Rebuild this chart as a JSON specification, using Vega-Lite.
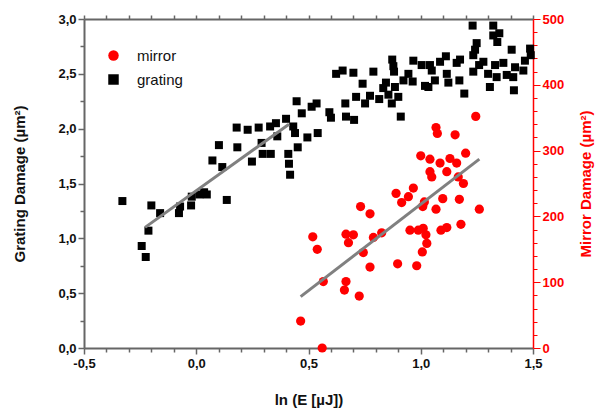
{
  "$schema": "https://vega.github.io/schema/vega-lite/v6.json",
  "width": 449,
  "height": 329,
  "autosize": {"type": "none"},
  "padding": {"left": 84, "top": 19, "right": 67, "bottom": 60},
  "config": {"view": {"stroke": null}, "font": "Liberation Sans", "axis": {"grid": false, "labelOverlap": false, "labelFlush": false, "labelBound": false, "tickCount": 200}},
  "datasets": {
    "grating": [
      {"x": -0.329, "y": 1.34, "s": "grating"}, {"x": -0.243, "y": 0.93, "s": "grating"}, {"x": -0.225, "y": 0.83, "s": "grating"},
      {"x": -0.213, "y": 1.07, "s": "grating"}, {"x": -0.2, "y": 1.3, "s": "grating"}, {"x": -0.161, "y": 1.23, "s": "grating"},
      {"x": -0.077, "y": 1.23, "s": "grating"}, {"x": -0.072, "y": 1.29, "s": "grating"}, {"x": -0.023, "y": 1.3, "s": "grating"},
      {"x": -0.02, "y": 1.38, "s": "grating"}, {"x": 0.014, "y": 1.4, "s": "grating"}, {"x": 0.035, "y": 1.42, "s": "grating"},
      {"x": 0.047, "y": 1.4, "s": "grating"}, {"x": 0.072, "y": 1.71, "s": "grating"}, {"x": 0.101, "y": 1.85, "s": "grating"},
      {"x": 0.116, "y": 1.65, "s": "grating"}, {"x": 0.136, "y": 1.35, "s": "grating"}, {"x": 0.18, "y": 2.01, "s": "grating"},
      {"x": 0.183, "y": 1.83, "s": "grating"}, {"x": 0.229, "y": 1.99, "s": "grating"}, {"x": 0.248, "y": 1.7, "s": "grating"},
      {"x": 0.278, "y": 2.01, "s": "grating"}, {"x": 0.291, "y": 1.87, "s": "grating"}, {"x": 0.296, "y": 1.77, "s": "grating"},
      {"x": 0.329, "y": 2.02, "s": "grating"}, {"x": 0.332, "y": 1.77, "s": "grating"}, {"x": 0.355, "y": 2.05, "s": "grating"},
      {"x": 0.361, "y": 1.93, "s": "grating"}, {"x": 0.4, "y": 2.09, "s": "grating"}, {"x": 0.41, "y": 1.77, "s": "grating"},
      {"x": 0.413, "y": 1.68, "s": "grating"}, {"x": 0.418, "y": 1.58, "s": "grating"}, {"x": 0.432, "y": 2.02, "s": "grating"},
      {"x": 0.44, "y": 1.96, "s": "grating"}, {"x": 0.447, "y": 2.25, "s": "grating"}, {"x": 0.452, "y": 1.83, "s": "grating"},
      {"x": 0.47, "y": 2.14, "s": "grating"}, {"x": 0.495, "y": 1.92, "s": "grating"}, {"x": 0.514, "y": 2.2, "s": "grating"},
      {"x": 0.536, "y": 2.23, "s": "grating"}, {"x": 0.541, "y": 1.96, "s": "grating"}, {"x": 0.593, "y": 2.15, "s": "grating"},
      {"x": 0.6, "y": 2.1, "s": "grating"}, {"x": 0.623, "y": 2.5, "s": "grating"}, {"x": 0.652, "y": 2.53, "s": "grating"},
      {"x": 0.664, "y": 2.23, "s": "grating"}, {"x": 0.667, "y": 2.11, "s": "grating"}, {"x": 0.7, "y": 2.51, "s": "grating"},
      {"x": 0.703, "y": 2.08, "s": "grating"}, {"x": 0.712, "y": 2.29, "s": "grating"}, {"x": 0.741, "y": 2.41, "s": "grating"},
      {"x": 0.752, "y": 2.23, "s": "grating"}, {"x": 0.774, "y": 2.3, "s": "grating"}, {"x": 0.789, "y": 2.52, "s": "grating"},
      {"x": 0.815, "y": 2.27, "s": "grating"}, {"x": 0.833, "y": 2.37, "s": "grating"}, {"x": 0.845, "y": 2.42, "s": "grating"},
      {"x": 0.856, "y": 2.31, "s": "grating"}, {"x": 0.871, "y": 2.23, "s": "grating"}, {"x": 0.873, "y": 2.63, "s": "grating"},
      {"x": 0.878, "y": 2.57, "s": "grating"}, {"x": 0.881, "y": 2.52, "s": "grating"}, {"x": 0.885, "y": 2.38, "s": "grating"},
      {"x": 0.9, "y": 2.29, "s": "grating"}, {"x": 0.911, "y": 2.11, "s": "grating"}, {"x": 0.923, "y": 2.44, "s": "grating"},
      {"x": 0.945, "y": 2.5, "s": "grating"}, {"x": 0.964, "y": 2.43, "s": "grating"}, {"x": 0.967, "y": 2.62, "s": "grating"},
      {"x": 1.004, "y": 2.58, "s": "grating"}, {"x": 1.019, "y": 2.39, "s": "grating"}, {"x": 1.034, "y": 2.38, "s": "grating"},
      {"x": 1.041, "y": 2.58, "s": "grating"}, {"x": 1.049, "y": 2.53, "s": "grating"}, {"x": 1.063, "y": 2.44, "s": "grating"},
      {"x": 1.086, "y": 2.61, "s": "grating"}, {"x": 1.112, "y": 2.66, "s": "grating"}, {"x": 1.116, "y": 2.5, "s": "grating"},
      {"x": 1.123, "y": 2.42, "s": "grating"}, {"x": 1.16, "y": 2.6, "s": "grating"}, {"x": 1.175, "y": 2.63, "s": "grating"},
      {"x": 1.172, "y": 2.44, "s": "grating"}, {"x": 1.194, "y": 2.32, "s": "grating"}, {"x": 1.231, "y": 2.94, "s": "grating"},
      {"x": 1.234, "y": 2.67, "s": "grating"}, {"x": 1.242, "y": 2.72, "s": "grating"}, {"x": 1.249, "y": 2.78, "s": "grating"},
      {"x": 1.234, "y": 2.52, "s": "grating"}, {"x": 1.26, "y": 2.58, "s": "grating"}, {"x": 1.279, "y": 2.61, "s": "grating"},
      {"x": 1.3, "y": 2.5, "s": "grating"}, {"x": 1.308, "y": 2.38, "s": "grating"}, {"x": 1.323, "y": 2.94, "s": "grating"},
      {"x": 1.323, "y": 2.85, "s": "grating"}, {"x": 1.341, "y": 2.79, "s": "grating"}, {"x": 1.35, "y": 2.87, "s": "grating"},
      {"x": 1.331, "y": 2.58, "s": "grating"}, {"x": 1.338, "y": 2.47, "s": "grating"}, {"x": 1.368, "y": 2.6, "s": "grating"},
      {"x": 1.383, "y": 2.49, "s": "grating"}, {"x": 1.405, "y": 2.72, "s": "grating"}, {"x": 1.412, "y": 2.47, "s": "grating"},
      {"x": 1.415, "y": 2.35, "s": "grating"}, {"x": 1.42, "y": 2.56, "s": "grating"}, {"x": 1.457, "y": 2.53, "s": "grating"},
      {"x": 1.464, "y": 2.62, "s": "grating"}, {"x": 1.487, "y": 2.73, "s": "grating"}, {"x": 1.49, "y": 2.67, "s": "grating"}
    ],
    "mirror": [
      {"x": 1.068, "y": 335, "s": "mirror"}, {"x": 1.074, "y": 326, "s": "mirror"}, {"x": 1.153, "y": 324, "s": "mirror"},
      {"x": 1.245, "y": 352, "s": "mirror"}, {"x": 1.2, "y": 296, "s": "mirror"}, {"x": 1.0, "y": 292, "s": "mirror"},
      {"x": 1.041, "y": 287, "s": "mirror"}, {"x": 1.086, "y": 281, "s": "mirror"}, {"x": 1.13, "y": 288, "s": "mirror"},
      {"x": 1.16, "y": 281, "s": "mirror"}, {"x": 1.041, "y": 268, "s": "mirror"}, {"x": 1.116, "y": 268, "s": "mirror"},
      {"x": 1.049, "y": 260, "s": "mirror"}, {"x": 1.167, "y": 260, "s": "mirror"}, {"x": 1.19, "y": 250, "s": "mirror"},
      {"x": 1.172, "y": 226, "s": "mirror"}, {"x": 1.261, "y": 211, "s": "mirror"}, {"x": 1.179, "y": 188, "s": "mirror"},
      {"x": 1.116, "y": 183, "s": "mirror"}, {"x": 1.09, "y": 179, "s": "mirror"}, {"x": 1.098, "y": 227, "s": "mirror"},
      {"x": 1.068, "y": 211, "s": "mirror"}, {"x": 1.016, "y": 222, "s": "mirror"}, {"x": 1.009, "y": 215, "s": "mirror"},
      {"x": 0.967, "y": 243, "s": "mirror"}, {"x": 0.945, "y": 230, "s": "mirror"}, {"x": 0.915, "y": 221, "s": "mirror"},
      {"x": 0.89, "y": 235, "s": "mirror"}, {"x": 0.952, "y": 179, "s": "mirror"}, {"x": 0.989, "y": 179, "s": "mirror"},
      {"x": 1.011, "y": 182, "s": "mirror"}, {"x": 1.023, "y": 172, "s": "mirror"}, {"x": 1.027, "y": 159, "s": "mirror"},
      {"x": 1.007, "y": 146, "s": "mirror"}, {"x": 0.982, "y": 125, "s": "mirror"}, {"x": 0.897, "y": 128, "s": "mirror"},
      {"x": 0.826, "y": 175, "s": "mirror"}, {"x": 0.789, "y": 168, "s": "mirror"}, {"x": 0.774, "y": 204, "s": "mirror"},
      {"x": 0.732, "y": 215, "s": "mirror"}, {"x": 0.7, "y": 172, "s": "mirror"}, {"x": 0.678, "y": 160, "s": "mirror"},
      {"x": 0.667, "y": 173, "s": "mirror"}, {"x": 0.744, "y": 145, "s": "mirror"}, {"x": 0.774, "y": 123, "s": "mirror"},
      {"x": 0.667, "y": 101, "s": "mirror"}, {"x": 0.66, "y": 88, "s": "mirror"}, {"x": 0.726, "y": 79, "s": "mirror"},
      {"x": 0.519, "y": 169, "s": "mirror"}, {"x": 0.539, "y": 150, "s": "mirror"}, {"x": 0.566, "y": 101, "s": "mirror"},
      {"x": 0.465, "y": 41, "s": "mirror"}, {"x": 0.561, "y": 0, "s": "mirror"}
    ],
    "gfit": [{"x": -0.228, "y": 1.1}, {"x": 0.413, "y": 2.04}],
    "mfit": [{"x": 0.465, "y": 78}, {"x": 1.261, "y": 287}]
  },
  "layer": [
    {
      "layer": [
        {
          "data": {"name": "grating"},
          "mark": {"type": "point", "filled": true, "size": 64, "opacity": 1},
          "encoding": {
            "x": {"field": "x", "type": "quantitative",
              "scale": {"domain": [-0.5, 1.5], "nice": false, "zero": false},
              "axis": {"orient": "bottom", "title": "ln (E [µJ])", "tickCount": 200,
                "values": [-0.5, -0.4, -0.3, -0.2, -0.1, 0, 0.1, 0.2, 0.3, 0.4, 0.5, 0.6, 0.7, 0.8, 0.9, 1, 1.1, 1.2, 1.3, 1.4, 1.5],
                "labelExpr": "abs(datum.value*2 - round(datum.value*2)) < 0.001 ? replace(replace(format(datum.value, '.1f'), '.', ','), '\u2212', '-') : ''",
                "tickSize": {"condition": {"test": "abs(datum.value*2 - round(datum.value*2)) < 0.001", "value": 6}, "value": 4},
                "labelOverlap": false, "labelFlush": false,
                "labelFontSize": 13, "labelFontWeight": "bold", "labelColor": "#111", "labelPadding": 3,
                "titleFontSize": 15, "titleFontWeight": "bold", "titleColor": "#111", "titlePadding": 22,
                "domainColor": "#666", "domainWidth": 2, "tickColor": "#666", "tickWidth": 1.5}},
            "y": {"field": "y", "type": "quantitative",
              "scale": {"domain": [0, 3], "nice": false},
              "axis": {"orient": "left", "title": "Grating Damage (µm²)", "tickCount": 200,
                "values": [0, 0.25, 0.5, 0.75, 1, 1.25, 1.5, 1.75, 2, 2.25, 2.5, 2.75, 3],
                "labelExpr": "abs(datum.value*2 - round(datum.value*2)) < 0.001 ? replace(format(datum.value, '.1f'), '.', ',') : ''",
                "tickSize": {"condition": {"test": "abs(datum.value*2 - round(datum.value*2)) < 0.001", "value": 6}, "value": 4},
                "labelOverlap": false, "labelFlush": false,
                "labelFontSize": 13, "labelFontWeight": "bold", "labelColor": "#111", "labelPadding": 2,
                "titleFontSize": 15, "titleFontWeight": "bold", "titleColor": "#111", "titlePadding": 30,
                "domainColor": "#666", "domainWidth": 2, "tickColor": "#666", "tickWidth": 1.5}},
            "color": {"field": "s", "type": "nominal",
              "scale": {"domain": ["mirror", "grating"], "range": ["#ff0000", "#000000"]},
              "legend": {"title": null, "orient": "none", "legendX": 22, "legendY": 29,
                "labelFontSize": 15, "labelColor": "#111", "symbolSize": 110, "symbolStrokeWidth": 0,
                "rowPadding": 8, "labelOffset": 16}},
            "shape": {"field": "s", "type": "nominal",
              "scale": {"domain": ["mirror", "grating"], "range": ["circle", "square"]},
              "legend": {"title": null, "orient": "none", "legendX": 22, "legendY": 29,
                "labelFontSize": 15, "labelColor": "#111", "symbolSize": 110, "symbolStrokeWidth": 0,
                "rowPadding": 8, "labelOffset": 16}}
          }
        },
        {
          "data": {"name": "gfit"},
          "mark": {"type": "line", "color": "#808080", "strokeWidth": 3},
          "encoding": {
            "x": {"field": "x", "type": "quantitative"},
            "y": {"field": "y", "type": "quantitative"}
          }
        }
      ]
    },
    {
      "layer": [
        {
          "data": {"name": "mirror"},
          "mark": {"type": "point", "filled": true, "size": 85, "opacity": 1},
          "encoding": {
            "x": {"field": "x", "type": "quantitative",
              "scale": {"domain": [-0.5, 1.5], "nice": false, "zero": false},
              "axis": {"orient": "top", "title": "", "labels": false, "tickCount": 200,
                "values": [-0.5, -0.4, -0.3, -0.2, -0.1, 0, 0.1, 0.2, 0.3, 0.4, 0.5, 0.6, 0.7, 0.8, 0.9, 1, 1.1, 1.2, 1.3, 1.4, 1.5],
                "tickSize": 4,
                "domainColor": "#666", "domainWidth": 2, "tickColor": "#666", "tickWidth": 1.5}},
            "y": {"field": "y", "type": "quantitative",
              "scale": {"domain": [0, 500], "nice": false},
              "axis": {"orient": "right", "title": "Mirror Damage (µm²)", "tickCount": 200, "titleAngle": 270,
                "values": [0, 20, 40, 60, 80, 100, 120, 140, 160, 180, 200, 220, 240, 260, 280, 300, 320, 340, 360, 380, 400, 420, 440, 460, 480, 500],
                "labelExpr": "datum.value % 100 === 0 ? format(datum.value, 'd') : ''",
                "tickSize": {"condition": {"test": "datum.value % 100 === 0", "value": 7}, "value": 4},
                "labelOverlap": false, "labelFlush": false,
                "labelFontSize": 13, "labelFontWeight": "bold", "labelColor": "#ff0000", "labelPadding": 2,
                "titleFontSize": 15, "titleFontWeight": "bold", "titleColor": "#ff0000", "titlePadding": 30,
                "domainColor": "#ff0000", "domainWidth": 1.5, "tickColor": "#ff0000", "tickWidth": 1}},
            "color": {"field": "s", "type": "nominal"},
            "shape": {"field": "s", "type": "nominal"}
          }
        },
        {
          "data": {"name": "mfit"},
          "mark": {"type": "line", "color": "#808080", "strokeWidth": 3},
          "encoding": {
            "x": {"field": "x", "type": "quantitative"},
            "y": {"field": "y", "type": "quantitative"}
          }
        }
      ]
    }
  ],
  "resolve": {"scale": {"x": "independent", "y": "independent"}, "axis": {"x": "independent", "y": "independent"}}
}
